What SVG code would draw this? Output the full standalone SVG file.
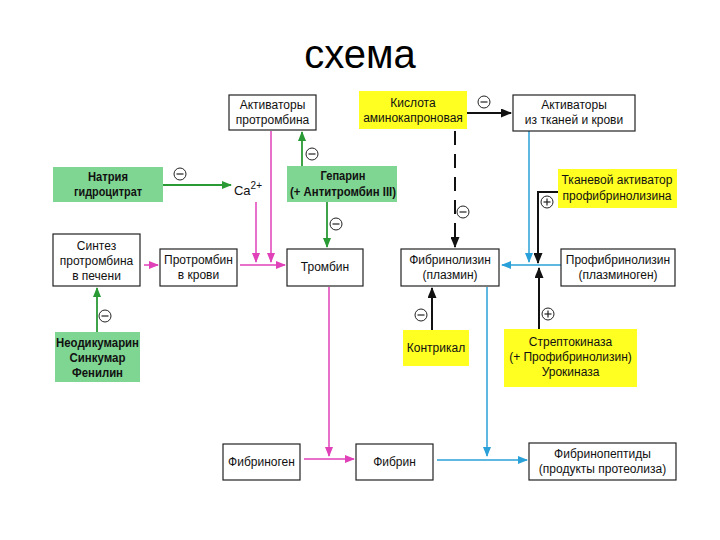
<svg xmlns="http://www.w3.org/2000/svg" width="720" height="540" viewBox="0 0 720 540">
<style>
text{font-family:"Liberation Sans",Arial,sans-serif;font-size:12px;fill:#111;text-anchor:middle}
.title{font-size:40px;fill:#000}
.b{fill:#fff;stroke:#222;stroke-width:1.2}
.g{fill:#7fd592;stroke:none}
.y{fill:#ffff22;stroke:none}
.gt{font-weight:bold;font-size:12px}
.pk{stroke:#e040b8;stroke-width:1.5;fill:none}
.gr{stroke:#2a9a35;stroke-width:1.8;fill:none}
.bl{stroke:#2aa0d8;stroke-width:1.5;fill:none}
.bk{stroke:#111;stroke-width:2;fill:none}
.sgn{fill:none;stroke:#222;stroke-width:1}
</style>
<defs>
<marker id="mp" markerWidth="10" markerHeight="8" refX="9" refY="4" orient="auto" markerUnits="userSpaceOnUse"><path d="M0,0L10,4L0,8z" fill="#e040b8"/></marker>
<marker id="mg" markerWidth="10" markerHeight="8" refX="9" refY="4" orient="auto" markerUnits="userSpaceOnUse"><path d="M0,0L10,4L0,8z" fill="#2a9a35"/></marker>
<marker id="mb" markerWidth="10" markerHeight="8" refX="9" refY="4" orient="auto" markerUnits="userSpaceOnUse"><path d="M0,0L10,4L0,8z" fill="#2aa0d8"/></marker>
<marker id="mk" markerWidth="11" markerHeight="9" refX="10" refY="4.5" orient="auto" markerUnits="userSpaceOnUse"><path d="M0,0L11,4.5L0,9z" fill="#111"/></marker>
<g id="minus"><circle r="6" class="sgn"/><line x1="-3.5" y1="0" x2="3.5" y2="0" stroke="#222" stroke-width="1.2"/></g>
<g id="plus"><circle r="6" class="sgn"/><line x1="-3.5" y1="0" x2="3.5" y2="0" stroke="#222" stroke-width="1.2"/><line x1="0" y1="-3.5" x2="0" y2="3.5" stroke="#222" stroke-width="1.2"/></g>
</defs>
<rect width="720" height="540" fill="#fff"/>
<text x="360" y="68" class="title">схема</text>

<g id="connectors">
<!-- pink -->
<line x1="144" y1="265" x2="158" y2="265" class="pk" marker-end="url(#mp)"/>
<line x1="240" y1="265" x2="285" y2="265" class="pk" marker-end="url(#mp)"/>
<line x1="271" y1="131" x2="271" y2="262" class="pk" marker-end="url(#mp)"/>
<line x1="256" y1="202" x2="256" y2="262" class="pk" marker-end="url(#mp)"/>
<line x1="329" y1="287" x2="329" y2="456" class="pk" marker-end="url(#mp)"/>
<line x1="304" y1="459" x2="354" y2="459" class="pk" marker-end="url(#mp)"/>
<!-- green -->
<line x1="163" y1="185" x2="231" y2="185" class="gr" marker-end="url(#mg)"/>
<line x1="302" y1="166" x2="302" y2="132" class="gr" marker-end="url(#mg)"/>
<line x1="327" y1="202" x2="327" y2="247" class="gr" marker-end="url(#mg)"/>
<line x1="97" y1="332" x2="97" y2="288" class="gr" marker-end="url(#mg)"/>
<!-- blue -->
<line x1="529" y1="131" x2="529" y2="262" class="bl" marker-end="url(#mb)"/>
<line x1="561" y1="265" x2="502" y2="265" class="bl" marker-end="url(#mb)"/>
<line x1="487" y1="287" x2="487" y2="456" class="bl" marker-end="url(#mb)"/>
<line x1="437" y1="460" x2="527" y2="460" class="bl" marker-end="url(#mb)"/>
<!-- black -->
<line x1="467" y1="113" x2="511" y2="113" class="bk" marker-end="url(#mk)"/>
<line x1="455" y1="131" x2="455" y2="247" class="bk" stroke-dasharray="14,9" marker-end="url(#mk)"/>
<polyline points="558,192 538,192 538,263" class="bk" marker-end="url(#mk)"/>
<line x1="539" y1="329" x2="539" y2="268" class="bk" marker-end="url(#mk)"/>
<line x1="432" y1="330" x2="432" y2="288" class="bk" marker-end="url(#mk)"/>
<!-- signs -->
<use href="#minus" x="180" y="174"/>
<use href="#minus" x="312" y="154"/>
<use href="#minus" x="336" y="224"/>
<use href="#minus" x="105" y="316"/>
<use href="#minus" x="484" y="102"/>
<use href="#minus" x="463" y="212"/>
<use href="#plus" x="547" y="202"/>
<use href="#minus" x="421" y="315"/>
<use href="#plus" x="548" y="314"/>
</g>

<g id="n-akt-protr"><rect x="229" y="95" width="87" height="35" class="b"/><text x="272.5" y="109">Активаторы</text><text x="272.5" y="124">протромбина</text></g>
<g id="n-kislota"><rect x="359" y="91" width="108" height="38" class="y"/><text x="413" y="107">Кислота</text><text x="413" y="122">аминокапроновая</text></g>
<g id="n-akt-tkan"><rect x="513" y="95" width="122" height="36" class="b"/><text x="574" y="109">Активаторы</text><text x="574" y="124">из тканей и крови</text></g>
<g id="n-natriya"><rect x="53" y="167" width="110" height="35" class="g"/><text x="108" y="181" class="gt" textLength="40" lengthAdjust="spacingAndGlyphs">Натрия</text><text x="108" y="196" class="gt" textLength="68" lengthAdjust="spacingAndGlyphs">гидроцитрат</text></g>
<g id="n-ca"><text x="248" y="195" style="font-size:13px">Ca<tspan font-size="10" dy="-6">2+</tspan></text></g>
<g id="n-geparin"><rect x="287" y="166" width="110" height="36" class="g"/><text x="343" y="180" class="gt" textLength="45" lengthAdjust="spacingAndGlyphs">Гепарин</text><text x="343" y="196" class="gt" textLength="106" lengthAdjust="spacingAndGlyphs">(+ Антитромбин III)</text></g>
<g id="n-tkanevoy"><rect x="558" y="169" width="119" height="39" class="y"/><text x="617" y="184">Тканевой активатор</text><text x="617" y="200">профибринолизина</text></g>
<g id="n-sintez"><rect x="53" y="234" width="87" height="52" class="b"/><text x="96.5" y="250">Синтез</text><text x="96.5" y="265">протромбина</text><text x="96.5" y="280">в печени</text></g>
<g id="n-protr-krovi"><rect x="160" y="249" width="77" height="37" class="b"/><text x="198.5" y="264">Протромбин</text><text x="198.5" y="279">в крови</text></g>
<g id="n-trombin"><rect x="287" y="249" width="76" height="37" class="b"/><text x="325" y="271">Тромбин</text></g>
<g id="n-fibrinolizin"><rect x="401" y="249" width="98" height="37" class="b"/><text x="450" y="264">Фибринолизин</text><text x="450" y="279">(плазмин)</text></g>
<g id="n-profibrinolizin"><rect x="561" y="249" width="114" height="37" class="b"/><text x="618" y="264">Профибринолизин</text><text x="618" y="279">(плазминоген)</text></g>
<g id="n-neodik"><rect x="55" y="332" width="85" height="50" class="g"/><text x="97.5" y="347" class="gt" textLength="83" lengthAdjust="spacingAndGlyphs">Неодикумарин</text><text x="97.5" y="362" class="gt" textLength="56" lengthAdjust="spacingAndGlyphs">Синкумар</text><text x="97.5" y="377" class="gt" textLength="51" lengthAdjust="spacingAndGlyphs">Фенилин</text></g>
<g id="n-kontrikal"><rect x="403" y="330" width="66" height="36" class="y"/><text x="436" y="352">Контрикал</text></g>
<g id="n-strepto"><rect x="504" y="329" width="133" height="58" class="y"/><text x="570.5" y="346">Стрептокиназа</text><text x="570.5" y="361">(+ Профибринолизин)</text><text x="570.5" y="376">Урокиназа</text></g>
<g id="n-fibrinogen"><rect x="223" y="444" width="77" height="36" class="b"/><text x="261.5" y="466">Фибриноген</text></g>
<g id="n-fibrin"><rect x="356" y="444" width="77" height="36" class="b"/><text x="394.5" y="466">Фибрин</text></g>
<g id="n-fibrinopept"><rect x="529" y="443" width="147" height="37" class="b"/><text x="602.5" y="458">Фибринопептиды</text><text x="602.5" y="473">(продукты протеолиза)</text></g>
</svg>
